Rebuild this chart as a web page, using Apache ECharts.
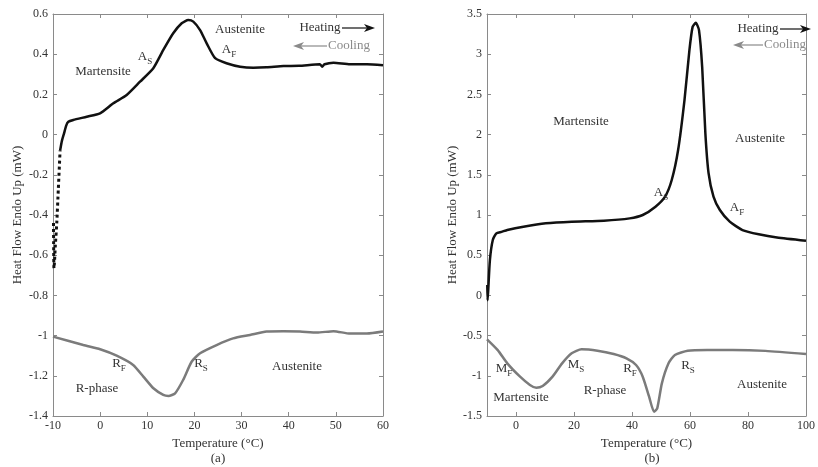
<!DOCTYPE html>
<html><head><meta charset="utf-8">
<script src="https://cdn.jsdelivr.net/npm/echarts@6/dist/echarts.min.js"></script>
<style>html,body{margin:0;padding:0;background:#fff}#c{width:818px;height:467px}</style>
</head><body><div id="c"></div>
<script>
// ---- data (a) ----
const aHeatSteepT = [-9.9,-9.85,-9.8,-9.7,-9.5,-9.2,-8.88,-8.5];
const aHeatSteepV = [-0.44,-0.58,-0.665,-0.64,-0.55,-0.44,-0.276,-0.08];
const aHeatT = [-8.5,-8.1,-7.67,-7.2,-6.75,-5.7,-2.85,-0.03,2.8,5.63,8.46,11.28,13.4,15.5,17.3,18.7,19.76,21.2,22.6,24.4,26.8,29.7,32.5,35.3,38.9,42.2,46.6,47.1,47.6,49.5,53,56.6,60];
const aHeatV = [-0.08,-0.03,0.005,0.045,0.064,0.073,0.089,0.106,0.156,0.197,0.263,0.33,0.421,0.504,0.554,0.57,0.562,0.52,0.454,0.38,0.355,0.338,0.333,0.335,0.341,0.342,0.35,0.338,0.35,0.358,0.35,0.35,0.345];
const aCoolT = [-10,-3.57,0,3.5,7.0,9.16,11.3,13.4,14.5,15.9,17.6,19.4,21.2,24.7,28.2,31.8,35.3,38.9,42.4,46,49.5,53,56.6,60];
const aCoolV = [-1.005,-1.047,-1.068,-1.10,-1.146,-1.204,-1.262,-1.295,-1.30,-1.287,-1.221,-1.13,-1.088,-1.047,-1.014,-0.997,-0.98,-0.978,-0.98,-0.985,-0.978,-0.99,-0.99,-0.98];
// ---- data (b) ----
const bHeatT = [-9.9,-9.8,-9.6,-9.0,-8.0,-6.77,-5,-3,2.56,10.3,19.2,30.3,39.2,43.7,48.1,51.4,53.7,55.9,58.1,59.8,60.9,62,63.1,64.2,65.3,66.4,68.1,70.3,73.7,78.1,83.7,90,100];
const bHeatV = [0.13,-0.06,0.05,0.44,0.69,0.772,0.79,0.814,0.855,0.897,0.917,0.929,0.958,1.0,1.103,1.228,1.435,1.808,2.43,3.05,3.34,3.39,3.30,2.84,2.016,1.52,1.228,1.062,0.917,0.813,0.76,0.72,0.68];
const bCoolT = [-10,-6.3,-3,1.4,4.8,7,9.2,12.6,15.9,19.2,22.6,28.1,33.7,38.1,41.4,43.7,45.9,47.6,48.7,50.3,52.6,54.8,59.2,65.9,74.8,86,100];
const bCoolV = [-0.546,-0.68,-0.845,-1.011,-1.114,-1.148,-1.127,-1.011,-0.845,-0.72,-0.67,-0.688,-0.729,-0.783,-0.866,-1.011,-1.26,-1.447,-1.405,-1.094,-0.845,-0.741,-0.688,-0.679,-0.679,-0.69,-0.729];
// ---- axes ----
const aX = {min:-10,max:60,interval:10};
const aY = {min:-1.4,max:0.6,interval:0.2};
const bX = {min:-10,max:100,ticks:[0,20,40,60,80,100]};
const bY = {min:-1.5,max:3.5,interval:0.5};
const xName = 'Temperature (°C)';
const yName = 'Heat Flow Endo Up (mW)';

const FF = '"Liberation Serif","DejaVu Serif",serif';
const zip = (t,v)=>t.map((x,i)=>[x,v[i]]);
const frame = '#8a8a8a';
function xAxisMain(gi, s){
  const o = {type:'value',gridIndex:gi,min:s.min,max:s.max,position:'bottom',
    name:xName,nameLocation:'middle',nameGap:20,
    nameTextStyle:{fontFamily:FF,fontSize:13,color:'#333'},
    axisLine:{onZero:false,lineStyle:{color:frame,width:1}},
    axisTick:{inside:true,length:4,lineStyle:{color:frame}},
    axisLabel:{fontFamily:FF,fontSize:12,color:'#333',margin:4},
    splitLine:{show:false}};
  if(s.interval){o.interval=s.interval;} else {o.axisTick.customValues=s.ticks;o.axisLabel.customValues=s.ticks;}
  return o;
}
function xAxisTop(gi, s){
  const o = {type:'value',gridIndex:gi,min:s.min,max:s.max,position:'top',
    axisLine:{onZero:false,lineStyle:{color:frame,width:1}},
    axisTick:{inside:true,length:4,lineStyle:{color:frame}},
    axisLabel:{show:false},splitLine:{show:false}};
  if(s.interval){o.interval=s.interval;} else {o.axisTick.customValues=s.ticks;o.axisLabel.customValues=s.ticks;}
  return o;
}
function yAxisMain(gi, s, gap){
  return {type:'value',gridIndex:gi,min:s.min,max:s.max,interval:s.interval,position:'left',
    name:yName,nameLocation:'middle',nameGap:gap,
    nameTextStyle:{fontFamily:FF,fontSize:13,color:'#333'},
    axisLine:{onZero:false,lineStyle:{color:frame,width:1}},
    axisTick:{inside:true,length:4,lineStyle:{color:frame}},
    axisLabel:{fontFamily:FF,fontSize:12,color:'#333',margin:5},
    splitLine:{show:false}};
}
function yAxisRight(gi, s){
  return {type:'value',gridIndex:gi,min:s.min,max:s.max,interval:s.interval,position:'right',
    axisLine:{onZero:false,lineStyle:{color:frame,width:1}},
    axisTick:{inside:true,length:4,lineStyle:{color:frame}},
    axisLabel:{show:false},splitLine:{show:false}};
}
const heatColor = '#111';
const coolColor = '#7b7b7b';
function ln(xi, yi, data, color, type, w){
  return {type:'line',xAxisIndex:xi,yAxisIndex:yi,data:data,showSymbol:false,smooth:0.2,
    lineStyle:{color:color,width:w||2.5,type:type||'solid'},silent:true,animation:false};
}
function txt(x,y,t,opt){
  opt=opt||{};
  return {type:'text',x:x,y:y,style:{text:t,fontFamily:FF,fontSize:opt.fs||13,fill:opt.fill||'#333',
    align:opt.align||'center',verticalAlign:'middle',
    rich:{m:{fontFamily:FF,fontSize:13,fill:opt.fill||'#333'},s:{fontFamily:FF,fontSize:9,fill:opt.fill||'#333',padding:[9,0,0,0]}}},z:10};
}
function arrowR(x1,x2,y,color){
  return [{type:'line',shape:{x1:x1,y1:y,x2:x2-7,y2:y},style:{stroke:color,lineWidth:1.2},z:10},
    {type:'polygon',shape:{points:[[x2,y],[x2-11,y-4],[x2-8,y],[x2-11,y+4]]},style:{fill:color},z:10}];
}
function arrowL(x1,x2,y,color){
  return [{type:'line',shape:{x1:x1+7,y1:y,x2:x2,y2:y},style:{stroke:color,lineWidth:1.2},z:10},
    {type:'polygon',shape:{points:[[x1,y],[x1+11,y-4],[x1+8,y],[x1+11,y+4]]},style:{fill:color},z:10}];
}
const graphics = [].concat(
  [txt(103,72,'Martensite'), txt(145,57,'{m|A}{s|S}'), txt(240,30,'Austenite'), txt(229,50,'{m|A}{s|F}'),
   txt(320,28,'Heating'), txt(349,46,'Cooling',{fill:'#8a8a8a'}),
   txt(119,364,'{m|R}{s|F}'), txt(97,389,'R-phase'), txt(201,364,'{m|R}{s|S}'), txt(297,367,'Austenite'),
   txt(218,459,'(a)')],
  arrowR(342,375,28,'#111'), arrowL(293,327,46,'#8a8a8a'),
  [txt(581,122,'Martensite'), txt(760,139,'Austenite'), txt(661,193,'{m|A}{s|S}'), txt(737,208,'{m|A}{s|F}'),
   txt(758,29,'Heating'), txt(785,45,'Cooling',{fill:'#8a8a8a'}),
   txt(504,369,'{m|M}{s|F}'), txt(521,398,'Martensite'), txt(576,365,'{m|M}{s|S}'), txt(605,391,'R-phase'),
   txt(630,369,'{m|R}{s|F}'), txt(688,366,'{m|R}{s|S}'), txt(762,385,'Austenite'),
   txt(652,459,'(b)')],
  arrowR(780,811,29,'#111'), arrowL(733,763,45,'#8a8a8a')
);
const option = {
  backgroundColor:'#fff',
  animation:false,
  grid:[{left:53,top:14,width:330,height:402},{left:487,top:14,width:330,height:402}],
  xAxis:[xAxisMain(0,aX),xAxisTop(0,aX),xAxisMain(1,bX),xAxisTop(1,bX)],
  yAxis:[yAxisMain(0,aY,29),yAxisRight(0,aY),yAxisMain(1,bY,28),yAxisRight(1,bY)],
  series:[
    ln(0,0,zip(aCoolT,aCoolV),coolColor),
    ln(0,0,zip(aHeatSteepT,aHeatSteepV),heatColor,'dotted',3),
    ln(0,0,zip(aHeatT,aHeatV),heatColor),
    ln(2,2,zip(bCoolT,bCoolV),coolColor),
    ln(2,2,zip(bHeatT,bHeatV),heatColor)
  ],
  graphic:graphics
};
const chart = echarts.init(document.getElementById('c'),null,{renderer:'canvas'});
chart.setOption(option);
</script></body></html>
